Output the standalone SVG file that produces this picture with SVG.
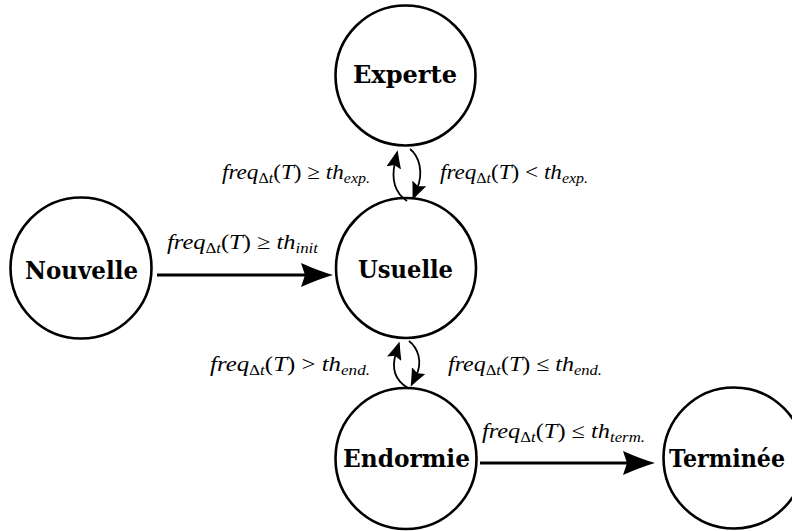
<svg xmlns="http://www.w3.org/2000/svg" width="792" height="531" viewBox="0 0 792 531">
<style>
.node{fill:#fff;stroke:#000;stroke-width:2.6}
.nt{font-family:"DejaVu Serif","Liberation Serif",serif;font-weight:bold;font-size:24px;fill:#000;text-anchor:start}
.lbl{font-family:"Liberation Serif","DejaVu Serif",serif;font-style:italic;font-size:21px;fill:#000}
.up{font-style:normal}
.sub{font-size:14.5px}
.e1{fill:none;stroke:#000;stroke-width:3}
.e2{fill:none;stroke:#000;stroke-width:1.8}
</style>
<defs>
<marker id="big" viewBox="0 0 32 24" refX="12" refY="12" markerWidth="32" markerHeight="24" markerUnits="userSpaceOnUse" orient="auto">
<path d="M32,12 Q18,8 0,0 L4,12 L0,24 Q18,16 32,12 Z" fill="#000"/>
</marker>
<marker id="small" viewBox="0 0 18 15" refX="6" refY="7.5" markerWidth="18" markerHeight="15" markerUnits="userSpaceOnUse" orient="auto">
<path d="M18,7.5 Q10,4.5 0,0 L3,7.5 L0,15 Q10,10.5 18,7.5 Z" fill="#000"/>
</marker>
</defs>
<rect width="792" height="531" fill="#fff"/>
<g id="Experte"><circle class="node" cx="405.5" cy="75.5" r="70"/><text class="nt" x="353" y="83" textLength="104" lengthAdjust="spacingAndGlyphs">Experte</text></g>
<g id="Usuelle"><circle class="node" cx="406" cy="268" r="70"/><text class="nt" x="358" y="278" textLength="95" lengthAdjust="spacingAndGlyphs">Usuelle</text></g>
<g id="Nouvelle"><circle class="node" cx="81" cy="268" r="70.5"/><text class="nt" x="25" y="279" textLength="113" lengthAdjust="spacingAndGlyphs">Nouvelle</text></g>
<g id="Endormie"><circle class="node" cx="406" cy="458.5" r="70.5"/><text class="nt" x="343" y="467" textLength="127" lengthAdjust="spacingAndGlyphs">Endormie</text></g>
<g id="Terminee"><circle class="node" cx="734" cy="458" r="70.5"/><text class="nt" x="669" y="467" textLength="116" lengthAdjust="spacingAndGlyphs">Terminée</text></g>
<g id="connectors">
<path class="e1" d="M157,275 L313,275" marker-end="url(#big)"/>
<path class="e1" d="M480,463 L635,463" marker-end="url(#big)"/>
<path class="e2" d="M407,201 C395,193 391,180 395,162" marker-end="url(#small)"/>
<path class="e2" d="M410,149 C419,156 424,172 417,189" marker-end="url(#small)"/>
<path class="e2" d="M408,388 C396,381 391,369 396,353" marker-end="url(#small)"/>
<path class="e2" d="M409,341 C418,348 423,362 416,376" marker-end="url(#small)"/>
<text class="lbl" x="167" y="249" textLength="151" lengthAdjust="spacingAndGlyphs">freq<tspan class="sub" dy="4"><tspan class="up">Δ</tspan>t</tspan><tspan class="up" dy="-4">(</tspan>T<tspan class="up">) ≥ </tspan>th<tspan class="sub" dy="4">init</tspan></text>
<text class="lbl" x="222" y="179" textLength="148" lengthAdjust="spacingAndGlyphs">freq<tspan class="sub" dy="4"><tspan class="up">Δ</tspan>t</tspan><tspan class="up" dy="-4">(</tspan>T<tspan class="up">) ≥ </tspan>th<tspan class="sub" dy="4">exp.</tspan></text>
<text class="lbl" x="440" y="179" textLength="148" lengthAdjust="spacingAndGlyphs">freq<tspan class="sub" dy="4"><tspan class="up">Δ</tspan>t</tspan><tspan class="up" dy="-4">(</tspan>T<tspan class="up">) &lt; </tspan>th<tspan class="sub" dy="4">exp.</tspan></text>
<text class="lbl" x="210" y="371" textLength="160" lengthAdjust="spacingAndGlyphs">freq<tspan class="sub" dy="4"><tspan class="up">Δ</tspan>t</tspan><tspan class="up" dy="-4">(</tspan>T<tspan class="up">) &gt; </tspan>th<tspan class="sub" dy="4">end.</tspan></text>
<text class="lbl" x="448" y="371" textLength="154" lengthAdjust="spacingAndGlyphs">freq<tspan class="sub" dy="4"><tspan class="up">Δ</tspan>t</tspan><tspan class="up" dy="-4">(</tspan>T<tspan class="up">) ≤ </tspan>th<tspan class="sub" dy="4">end.</tspan></text>
<text class="lbl" x="482" y="438" textLength="163" lengthAdjust="spacingAndGlyphs">freq<tspan class="sub" dy="4"><tspan class="up">Δ</tspan>t</tspan><tspan class="up" dy="-4">(</tspan>T<tspan class="up">) ≤ </tspan>th<tspan class="sub" dy="4">term.</tspan></text>
</g>
</svg>
